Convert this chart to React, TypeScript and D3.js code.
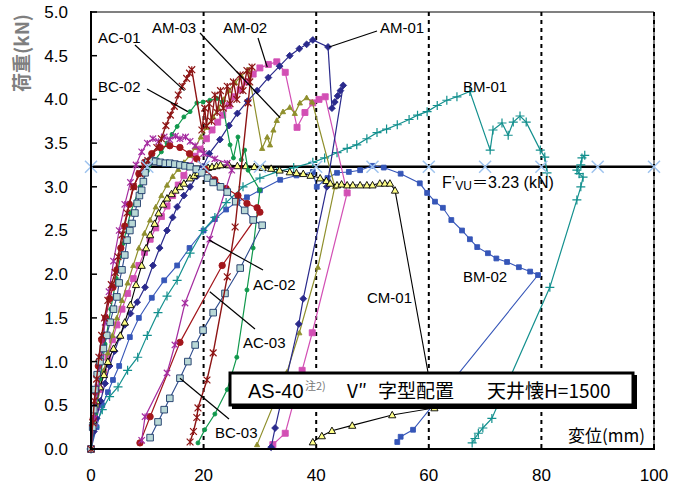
import { useEffect, useRef } from 'react';
import { line, scaleLinear, select } from 'd3';

type Pt = [number, number];

// axis setup
const xTicks = [0, 20, 40, 60, 80, 100];
const yTicks = [0, 0.5, 1, 1.5, 2, 2.5, 3, 3.5, 4, 4.5, 5];
const gridX = [20, 40, 60, 80, 100];
const fvu = 3.23;
const fvuMarks = [0, 10, 20, 30, 40, 50, 60, 70, 80, 90, 100];

// load - displacement curves, [displacement mm, load kN]
const ac01: Pt[] = [
  [0, 0], [0.3, 0.3], [0.6, 0.55], [1.0, 0.8], [1.4, 1.05], [1.9, 1.3], [2.4, 1.5], [3, 1.7],
  [3.6, 1.88], [4.3, 2.02], [4.8, 2.2], [5.5, 2.45], [6.4, 2.7], [7.5, 3.0], [8.7, 3.15],
  [10.1, 3.3], [11.7, 3.45], [12.5, 3.55], [13.3, 3.7], [14.1, 3.82], [14.8, 3.92], [15.5, 4.05],
  [16.2, 4.15], [17, 4.24], [17.5, 4.3], [17.9, 4.34], [19.7, 3.65], [20.2, 3.9], [20.5, 3.7],
  [21, 3.95], [21.4, 3.75], [22, 4.05], [22.4, 3.85], [23, 4.1], [23.5, 3.9], [24.2, 4.15],
  [24.7, 3.95], [25.3, 4.2], [25.9, 4.0], [26.5, 4.28], [27, 4.1], [27.7, 4.33], [28.2, 4.2],
  [28.6, 4.37], [27.9, 3.96], [25.6, 2.54], [24.2, 1.97], [21.7, 1.1], [20.6, 0.79], [19, 0.47],
  [18.8, 0.36], [18.2, 0.2], [17.6, 0.08],
];

const ac02: Pt[] = [
  [0, 0], [0.6, 0.35], [1.2, 0.7], [1.8, 1.05], [2.5, 1.45], [3.2, 1.8], [4, 2.15], [5, 2.5],
  [6, 2.8], [7, 3.05], [8, 3.25], [9, 3.4], [10, 3.5], [11, 3.55], [12, 3.52], [13, 3.57],
  [14, 3.54], [15, 3.58], [15.8, 3.55], [16.8, 3.57], [17.6, 3.52], [18.5, 3.47], [20, 3.38],
  [22, 3.32], [24.2, 3.27], [25, 3.19], [21.1, 2.4], [16.7, 1.67], [14.9, 1.19], [13.5, 0.87],
  [9.6, 0.37], [9, 0.1],
];

const ac03: Pt[] = [
  [0, 0], [0.4, 0.35], [0.8, 0.65], [1.3, 0.95], [1.9, 1.25], [2.6, 1.5], [3.3, 1.72],
  [3.9, 1.85], [4.6, 2.05], [5.3, 2.3], [6, 2.55], [6.8, 2.8], [7.6, 3.0], [8.5, 3.15],
  [9.5, 3.28], [10.8, 3.38], [12.3, 3.45], [14, 3.47], [15.8, 3.45], [17.5, 3.38], [18.8, 3.32],
  [20.3, 3.2], [22, 3.08], [24, 2.98], [26.1, 2.9], [27.7, 2.81], [29.5, 2.76], [30, 2.71],
  [23.3, 2.1], [15.8, 1.22], [10.5, 0.37], [8.7, 0.07],
];

const bc02: Pt[] = [
  [0, 0], [0.8, 0.4], [1.6, 0.8], [2.5, 1.2], [3.5, 1.6], [4.5, 1.95], [5.7, 2.35], [7, 2.7],
  [8.7, 3.0], [10, 3.18], [11.4, 3.31], [12.5, 3.4], [13.5, 3.5], [14.4, 3.6], [15.3, 3.69],
  [16.5, 3.8], [17.6, 3.86], [18.8, 3.96], [19.9, 3.97], [21.1, 3.99], [22.4, 4.01], [23.3, 3.97],
  [24.7, 3.48], [25.3, 3.33], [26.1, 3.57], [26.7, 3.31], [27.3, 3.42], [27.9, 3.19], [30, 2.96],
  [28.8, 2.3], [27.7, 1.82], [25.9, 1.05], [24.2, 0.68], [22, 0.4], [20.2, 0.22], [19, 0.07],
];

const bc03: Pt[] = [
  [0, 0], [0.3, 0.25], [0.5, 0.45], [0.7, 0.68], [1.1, 0.85], [1.6, 1.0], [2.2, 1.15],
  [2.8, 1.3], [3.4, 1.45], [4.0, 1.6], [4.6, 1.74], [5.0, 1.9], [5.5, 2.05], [6.0, 2.22],
  [6.4, 2.39], [6.9, 2.5], [7.3, 2.58], [7.8, 2.7], [8.2, 2.81], [8.6, 2.9], [9, 2.96],
  [9.3, 3.06], [9.6, 3.16], [10.1, 3.28], [10.8, 3.3], [11.5, 3.29], [12.3, 3.28], [13.2, 3.27],
  [14, 3.27], [14.9, 3.26], [15.8, 3.25], [16.7, 3.24], [17.6, 3.23], [18.7, 3.2], [19.7, 3.16],
  [20.7, 3.1], [21.7, 3.05], [23, 3.0], [24.2, 2.94], [25.7, 2.83], [27.3, 2.73], [28.8, 2.62],
  [30.4, 2.56], [26.5, 2.07], [23.8, 1.78], [21.7, 1.56], [19.9, 1.36], [18.5, 1.19], [17.2, 1.0],
  [15.8, 0.81], [14, 0.58], [13, 0.45], [11.9, 0.31], [10.5, 0.13],
];

const cm01: Pt[] = [
  [0, 0], [0.4, 0.33], [1.0, 0.55], [1.6, 0.71], [2.3, 0.85], [3, 1.0], [4, 1.15], [5.2, 1.3],
  [6, 1.45], [7, 1.65], [8, 1.88], [9, 2.1], [9.8, 2.3], [10.5, 2.45], [11.3, 2.58], [12, 2.7],
  [12.8, 2.8], [13.5, 2.87], [14.3, 2.92], [15, 2.96], [15.8, 3.0], [16.5, 3.04], [17.6, 3.1],
  [18.3, 3.13], [19, 3.16], [20, 3.2], [20.8, 3.22], [21.5, 3.23], [22.3, 3.24], [23, 3.25],
  [24.5, 3.25], [26, 3.24], [27.5, 3.24], [29, 3.23], [30.5, 3.22], [32, 3.21], [33.5, 3.19],
  [35.3, 3.17], [36.5, 3.16], [37.7, 3.15], [39, 3.13], [40.7, 3.1], [41.8, 3.07], [42.5, 3.04],
  [43.7, 3.02], [44.5, 3.03], [45.5, 3.02], [46.5, 3.02], [47.8, 3.02], [49, 3.02], [50, 3.02],
  [51.3, 3.04], [52.2, 3.04], [53.1, 3.04], [54, 2.96], [61, 0.47], [53.5, 0.39], [46.4, 0.27],
  [42.8, 0.21], [41, 0.15], [39.4, 0.08],
];

const am01: Pt[] = [
  [0, 0], [0.5, 0.2], [1, 0.35], [1.7, 0.55], [2.5, 0.75], [3.3, 0.95], [4.2, 1.12], [5.1, 1.28],
  [6, 1.42], [7, 1.55], [8.2, 1.68], [9.6, 1.85], [11, 2.1], [12.2, 2.3], [13.5, 2.5], [14.5, 2.65],
  [15.3, 2.77], [16.5, 2.9], [17.6, 3.0], [18.8, 3.12], [19.9, 3.23], [21, 3.38], [22.9, 3.54],
  [24.5, 3.7], [26, 3.84], [27.8, 3.98], [29.5, 4.1], [31.5, 4.25], [33.5, 4.38], [35.3, 4.5],
  [37, 4.58], [38.3, 4.63], [39.4, 4.68], [42.1, 4.6], [42.8, 3.9], [43.3, 3.97], [43.8, 4.04],
  [44.3, 4.1], [44.8, 4.16], [41.9, 3.0], [37.7, 1.72], [36.9, 1.43], [32.7, 0.24], [32, 0.02],
];

const am02: Pt[] = [
  [0, 0], [0.5, 0.28], [1, 0.48], [1.6, 0.68], [2.3, 0.88], [3, 1.05], [3.8, 1.25], [4.6, 1.42],
  [5.5, 1.6], [6.5, 1.78], [7.5, 1.95], [8.5, 2.1], [9.5, 2.25], [10.5, 2.4], [11.5, 2.53],
  [12.5, 2.66], [13.5, 2.78], [14.5, 2.9], [15.5, 3.02], [16.5, 3.13], [17.5, 3.24], [18.5, 3.35],
  [19.4, 3.43], [20.5, 3.55], [21.5, 3.65], [22.5, 3.74], [23.4, 3.82], [24.5, 3.93], [25.5, 4.03],
  [26.5, 4.11], [27.6, 4.2], [28.8, 4.29], [30, 4.36], [31.5, 4.4], [33, 4.43], [34.5, 4.31],
  [36.6, 3.68], [38, 3.85], [39.4, 3.96], [40.5, 4.0], [41.6, 4.03], [45.5, 2.93], [39.3, 1.33],
  [37.5, 0.9], [34.5, 0.18], [32.3, 0.05],
];

const am03: Pt[] = [
  [0, 0], [0.5, 0.3], [1, 0.5], [1.6, 0.7], [2.3, 0.9], [3, 1.1], [3.8, 1.3], [4.6, 1.5],
  [5.5, 1.7], [6.5, 1.9], [7.5, 2.1], [8.5, 2.3], [9.5, 2.47], [10.5, 2.62], [11.5, 2.77],
  [12.5, 2.9], [13.5, 3.02], [14.5, 3.12], [15.5, 3.2], [16.5, 3.28], [17.6, 3.36], [18.5, 3.45],
  [19.5, 3.57], [20.5, 3.68], [21.7, 3.8], [22.6, 3.9], [23.5, 4.0], [24.5, 4.1], [25.6, 4.19],
  [26.7, 4.27], [27.9, 4.34], [30.4, 3.44], [31.3, 3.57], [31.8, 3.48], [32.4, 3.65], [33, 3.76],
  [34.1, 3.86], [35.3, 3.91], [36.2, 3.84], [37.1, 3.96], [38.3, 4.02], [39.3, 3.97], [43.3, 3.0],
  [40.3, 2.08], [37, 1.33], [34.8, 0.88], [29.5, 0.05],
];

const bm01Load: Pt[] = [
  [0, 0], [0.7, 0.25], [2, 0.45], [3.3, 0.6], [4.8, 0.71], [6.5, 0.9], [8.3, 1.05], [10, 1.3],
  [11.9, 1.56], [13.5, 1.75], [15.3, 1.93], [17.6, 2.24], [19.9, 2.5], [22, 2.65], [24, 2.82],
  [27, 3.0], [30, 3.1], [33, 3.17], [36, 3.22], [39.4, 3.28], [41.5, 3.33], [43.7, 3.39],
  [45.5, 3.44], [47.2, 3.48], [49, 3.55], [50.8, 3.62], [52.5, 3.66], [54.4, 3.71], [56.5, 3.77],
  [58, 3.82], [59.7, 3.86], [61.5, 3.93], [63.2, 3.99], [65, 4.03], [67.3, 4.09], [70.9, 3.42],
  [71.4, 3.65], [73, 3.73], [74.1, 3.59], [75, 3.74], [76.2, 3.81], [77.3, 3.74], [79.8, 3.42],
  [80.6, 3.34], [81, 3.16],
];

const bm01Reload: Pt[] = [
  [67.7, 0.07], [68.2, 0.12], [68.8, 0.18], [69.6, 0.24], [71.2, 0.35], [81.5, 1.85], [86.3, 2.85],
  [87.0, 3.0], [87.4, 3.11], [86.7, 3.15], [86.3, 3.19], [87.0, 3.25], [87.2, 3.33], [87.7, 3.36],
];

const bm02: Pt[] = [
  [0, 0], [1, 0.25], [2, 0.5], [3, 0.65], [3.9, 0.79], [5, 0.95], [6.9, 1.28], [8.5, 1.5],
  [10.8, 1.73], [13, 1.93], [15.3, 2.1], [17.5, 2.3], [20, 2.5], [22, 2.63], [24, 2.74],
  [26, 2.83], [27.7, 2.88], [30, 2.96], [33.6, 3.08], [36.5, 3.13], [39.4, 3.17], [40.1, 3.0],
  [42, 3.1], [43.7, 3.16], [45.8, 3.17], [47.8, 3.19], [50, 3.24], [52, 3.22], [55, 3.15],
  [58.4, 3.04], [59.7, 2.93], [61.1, 2.83], [62.5, 2.76], [64, 2.62], [65.9, 2.5], [67.3, 2.4],
  [68.6, 2.31], [70.5, 2.24], [72, 2.18], [73.9, 2.14], [76, 2.08], [78, 2.03], [79.4, 1.99],
  [57.2, 0.22], [55, 0.14], [54.4, 0.08],
];

const series = [
  { data: [bm02], color: '#3656b8', marker: 'square', r: 2.4, width: 1.1, fill: '#3656b8' },
  { data: [bm01Load, bm01Reload], color: '#13908e', marker: 'plus', r: 4.5, width: 1.2, fill: 'none' },
  { data: [am02], color: '#d24fb4', marker: 'square', r: 3, width: 1.2, fill: '#d24fb4' },
  { data: [am03], color: '#8f8f2c', marker: 'triangle', r: 2.6, width: 1.2, fill: '#8f8f2c' },
  { data: [am01], color: '#2a2a8c', marker: 'diamond', r: 3.4, width: 1.2, fill: '#2a2a8c' },
  { data: [cm01], color: '#000000', marker: 'triangle', r: 3.6, width: 1.1, fill: '#ffff88' },
  { data: [bc02], color: '#10984c', marker: 'circle', r: 2, width: 1.2, fill: '#10984c' },
  { data: [ac03], color: '#a3161c', marker: 'circle', r: 3.2, width: 1.2, fill: '#a3161c' },
  { data: [ac02], color: '#a52ca0', marker: 'star', r: 3.2, width: 1.2, fill: 'none' },
  { data: [bc03], color: '#2e4c8e', marker: 'square', r: 3.3, width: 1.1, fill: '#b9d8d6' },
  { data: [ac01], color: '#8d1414', marker: 'star', r: 3.4, width: 1.4, fill: 'none' },
];

// curve names with text position (px) and pointer target (data)
const labels = [
  { text: 'AC-01', tx: 98, ty: 43, lx: 135, ly: 45, to: [16.6, 4.1] },
  { text: 'BC-02', tx: 98, ty: 92, lx: 147, ly: 89, to: [17.2, 3.86] },
  { text: 'AM-03', tx: 152, ty: 33, lx: 200, ly: 33, to: [33.6, 3.79] },
  { text: 'AM-02', tx: 223, ty: 33, lx: 258, ly: 38, to: [31.3, 4.37] },
  { text: 'AM-01', tx: 380, ty: 33, lx: 377, ly: 31, to: [42.3, 4.6] },
  { text: 'AC-02', tx: 253, ty: 290, lx: 263, ly: 270, to: [21.0, 2.39] },
  { text: 'AC-03', tx: 243, ty: 348, lx: 255, ly: 329, to: [21.1, 1.8] },
  { text: 'BC-03', tx: 215, ty: 438, lx: 229, ly: 419, to: [15.8, 0.81] },
  { text: 'BM-01', tx: 463, ty: 92 },
  { text: 'BM-02', tx: 463, ty: 282 },
  { text: 'CM-01', tx: 367, ty: 303 },
];

const markerPath = (type: string, r: number) => {
  switch (type) {
    case 'diamond':
      return `M0,${-r}L${r},0L0,${r}L${-r},0Z`;
    case 'triangle':
      return `M0,${-r}L${r},${r * 0.8}L${-r},${r * 0.8}Z`;
    case 'square':
      return `M${-r},${-r}H${r}V${r}H${-r}Z`;
    case 'star':
      return `M${-r},${-r}L${r},${r}M${-r},${r}L${r},${-r}M0,${-r}V${r}`;
    case 'plus':
      return `M${-r},0H${r}M0,${-r}V${r}`;
    case 'cross':
      return `M${-r},${-r}L${r},${r}M${-r},${r}L${r},${-r}`;
    default:
      return `M${-r},0A${r},${r} 0 1,0 ${r},0A${r},${r} 0 1,0 ${-r},0Z`;
  }
};

const App = () => {
  const svgRef = useRef<SVGSVGElement>(null);

  useEffect(() => {
    document.body.style.margin = '0';
    const svg = select(svgRef.current);
    svg.selectAll('*').remove();

    const x = scaleLinear().domain([0, 100]).range([91, 654]);
    const y = scaleLinear().domain([0, 5]).range([449, 12]);
    const font = '"Liberation Sans", Arial, sans-serif';
    const jpFont = '"Noto Sans CJK JP", sans-serif';

    // frame (gray top/right)
    svg.append('line').attr('x1', x(0)).attr('x2', x(100)).attr('y1', y(5)).attr('y2', y(5))
      .attr('stroke', '#808080').attr('stroke-width', 2);
    svg.append('line').attr('x1', x(100)).attr('x2', x(100)).attr('y1', y(5)).attr('y2', y(0))
      .attr('stroke', '#808080').attr('stroke-width', 2);

    // dashed verticals
    svg.append('g').selectAll('line').data(gridX).enter().append('line')
      .attr('x1', (d) => x(d)).attr('x2', (d) => x(d))
      .attr('y1', y(5)).attr('y2', y(0))
      .attr('stroke', '#000').attr('stroke-width', 2).attr('stroke-dasharray', '4,4');

    // F'vu line
    svg.append('line').attr('x1', x(0)).attr('x2', x(100)).attr('y1', y(fvu)).attr('y2', y(fvu))
      .attr('stroke', '#000').attr('stroke-width', 2.5);

    // series
    const lineGen = line<Pt>().x((d) => x(d[0])).y((d) => y(d[1]));
    series.forEach((s) => {
      const g = svg.append('g');
      s.data.forEach((seg) => {
        g.append('path').attr('d', lineGen(seg)).attr('fill', 'none')
          .attr('stroke', s.color).attr('stroke-width', s.width);
      });
      const pts = s.data.flat();
      const open = s.fill === 'none';
      g.selectAll('.m').data(pts).enter().append('path')
        .attr('transform', (d) => `translate(${x(d[0])},${y(d[1])})`)
        .attr('d', markerPath(s.marker, s.r))
        .attr('fill', s.fill)
        .attr('stroke', s.marker === 'square' && s.fill !== s.color ? '#1c3868' : s.color)
        .attr('stroke-width', open ? 1.2 : 0.9);
    });

    // light blue crosses on the F'vu line
    svg.append('g').selectAll('path').data(fvuMarks).enter().append('path')
      .attr('transform', (d) => `translate(${x(d)},${y(fvu)})`)
      .attr('d', markerPath('cross', 6))
      .attr('fill', 'none').attr('stroke', '#9ec3ee').attr('stroke-width', 1.5);

    // axes
    svg.append('line').attr('x1', x(0)).attr('x2', x(0)).attr('y1', y(5) - 1).attr('y2', y(0) + 1)
      .attr('stroke', '#000').attr('stroke-width', 2);
    svg.append('line').attr('x1', x(0) - 1).attr('x2', x(100) + 1).attr('y1', y(0)).attr('y2', y(0))
      .attr('stroke', '#000').attr('stroke-width', 2);
    svg.append('g').selectAll('line').data(yTicks).enter().append('line')
      .attr('x1', x(0)).attr('x2', x(0) + 6).attr('y1', (d) => y(d)).attr('y2', (d) => y(d))
      .attr('stroke', '#000').attr('stroke-width', 1.5);
    svg.append('g').selectAll('text').data(yTicks).enter().append('text')
      .attr('x', 68).attr('y', (d) => y(d)).attr('dy', '0.35em')
      .attr('text-anchor', 'end').attr('font-family', font).attr('font-size', 17)
      .text((d) => d.toFixed(1));
    svg.append('g').selectAll('text').data(xTicks).enter().append('text')
      .attr('x', (d) => x(d)).attr('y', 481)
      .attr('text-anchor', 'middle').attr('font-family', font).attr('font-size', 17)
      .text((d) => d);

    // y title
    svg.append('text').attr('transform', 'translate(29,53) rotate(-90)')
      .attr('text-anchor', 'middle').attr('font-family', jpFont).attr('font-size', 19)
      .attr('font-weight', 'bold').attr('fill', '#7f7f7f').text('荷重(kN)');

    // x title
    svg.append('text').attr('x', 645).attr('y', 442).attr('text-anchor', 'end')
      .attr('font-family', jpFont).attr('font-size', 17).text('変位(mm)');

    // F'vu label
    const fl = svg.append('text').attr('x', 442).attr('y', 188)
      .attr('font-family', font).attr('font-size', 16);
    fl.append('tspan').text('F’');
    fl.append('tspan').attr('font-size', 12).attr('dy', 2).text('VU');
    fl.append('tspan').attr('dy', -2).attr('font-family', jpFont).text('＝');
    fl.append('tspan').text('3.23 (kN)');

    // curve labels and pointers
    labels.forEach((l) => {
      if (l.to) {
        svg.append('line').attr('x1', l.lx).attr('y1', l.ly)
          .attr('x2', x(l.to[0])).attr('y2', y(l.to[1]))
          .attr('stroke', '#000').attr('stroke-width', 1.2);
      }
      svg.append('text').attr('x', l.tx).attr('y', l.ty)
        .attr('font-family', font).attr('font-size', 15).text(l.text);
    });

    // condition box
    svg.append('rect').attr('x', 232).attr('y', 375).attr('width', 405).attr('height', 34)
      .attr('fill', '#000');
    svg.append('rect').attr('x', 230).attr('y', 373).attr('width', 403).attr('height', 32)
      .attr('fill', '#fff').attr('stroke', '#000').attr('stroke-width', 3);
    const bt = svg.append('text').attr('y', 398).attr('font-family', jpFont).attr('font-size', 19);
    bt.append('tspan').attr('x', 248).attr('font-family', font).attr('font-size', 20).text('AS-40');
    bt.append('tspan').attr('x', 305).attr('dy', -8).attr('font-size', 11).attr('fill', '#777').text('注2)');
    bt.append('tspan').attr('x', 347).attr('dy', 8).text('V″');
    bt.append('tspan').attr('x', 378).text('字型配置');
    bt.append('tspan').attr('x', 487).text('天井懐H=1500');
  }, []);

  return <svg ref={svgRef} width={682} height={484} style={{ display: 'block' }} />;
};

export default App;
